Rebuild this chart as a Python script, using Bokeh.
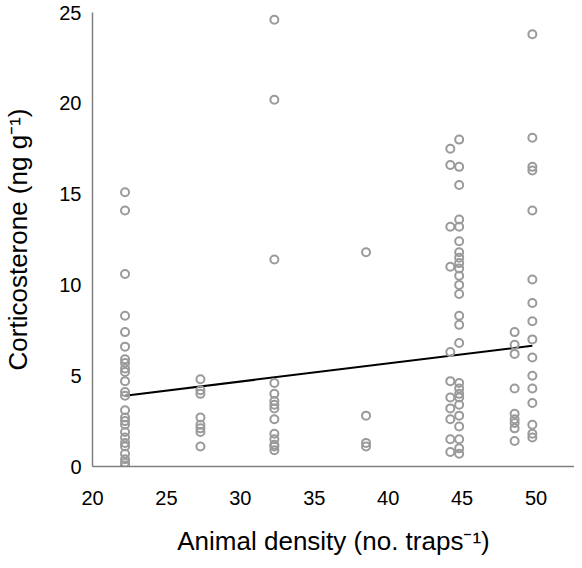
from bokeh.plotting import figure
from bokeh.models import Range1d, FixedTicker
from bokeh.embed import file_html
from bokeh.resources import INLINE

# Group densities (x) and corticosterone values (y)
density_groups = [22.2, 27.3, 32.3, 38.5, 44.2, 44.8, 48.55, 49.75]
cort_22 = [15.1, 14.1, 10.6, 8.3, 7.4, 6.6, 5.9, 5.7, 5.4, 5.2, 4.7, 4.1, 3.9, 3.1,
           2.7, 2.5, 2.3, 1.9, 1.6, 1.3, 1.1, 0.7, 0.4, 0.2, 0.05]
cort_27 = [4.8, 4.2, 4.0, 2.7, 2.3, 2.1, 1.9, 1.1]
cort_32 = [24.6, 20.2, 11.4, 4.6, 4.0, 3.6, 3.4, 3.2, 2.6, 1.8, 1.5, 1.2, 1.1, 0.9]
cort_38 = [11.8, 2.8, 1.3, 1.1]
cort_44a = [17.5, 16.6, 13.2, 11.0, 6.3, 4.7, 3.8, 3.2, 2.6, 1.5, 0.8]
cort_44b = [18.0, 16.5, 15.5, 13.6, 13.2, 12.4, 11.8, 11.5, 11.2, 10.9, 10.5, 10.0,
            9.5, 8.3, 7.8, 6.8, 4.6, 4.3, 4.0, 3.8, 3.4, 2.8, 2.2, 1.5, 1.0, 0.7]
cort_48 = [7.4, 6.7, 6.2, 4.3, 2.9, 2.6, 2.4, 2.1, 1.4]
cort_50 = [23.8, 18.1, 16.5, 16.3, 14.1, 10.3, 9.0, 8.0, 7.0, 6.0, 5.0, 4.3, 3.5,
           2.3, 1.8, 1.6]

fit_x = [22.2, 49.75]
fit_y = [3.9, 6.65]

x_ticks = [20, 25, 30, 35, 40, 45, 50]
y_ticks = [0, 5, 10, 15, 20, 25]

groups = [cort_22, cort_27, cort_32, cort_38, cort_44a, cort_44b, cort_48, cort_50]
xs, ys = [], []
for d, vals in zip(density_groups, groups):
    xs += [d] * len(vals)
    ys += vals

p = figure(width=574, height=560, output_backend="svg", toolbar_location=None,
           x_range=Range1d(20, 52.6), y_range=Range1d(0, 25),
           min_border_left=88, min_border_right=0, min_border_top=12,
           min_border_bottom=94)
p.outline_line_color = None
p.xgrid.visible = False
p.ygrid.visible = False

p.line(fit_x, fit_y, line_color="black", line_width=2)
p.scatter(xs, ys, marker="circle", size=8, fill_color=None,
          line_color="#9a9a9a", line_width=2)

FONT = "Liberation Sans"
for ax in (p.xaxis[0], p.yaxis[0]):
    ax.axis_line_color = "#7f7f7f"
    ax.axis_line_width = 1.5
    ax.major_tick_line_color = None
    ax.minor_tick_line_color = None
    ax.major_tick_out = 0
    ax.major_tick_in = 0
    ax.major_label_text_font = FONT
    ax.major_label_text_font_size = "20px"
    ax.major_label_text_color = "black"
    ax.axis_label_text_font = FONT
    ax.axis_label_text_font_size = "26px"
    ax.axis_label_text_font_style = "normal"
    ax.axis_label_text_color = "black"

p.xaxis[0].ticker = FixedTicker(ticks=x_ticks)
p.yaxis[0].ticker = FixedTicker(ticks=y_ticks)
p.xaxis[0].axis_label = "Animal density (no. traps\u207b\u00b9)"
p.yaxis[0].axis_label = "Corticosterone (ng g\u207b\u00b9)"
p.xaxis[0].major_label_standoff = 24
p.xaxis[0].axis_label_standoff = 18
p.yaxis[0].major_label_standoff = 11
p.yaxis[0].axis_label_standoff = 23

open("out.html", "w").write(file_html(p, INLINE))
